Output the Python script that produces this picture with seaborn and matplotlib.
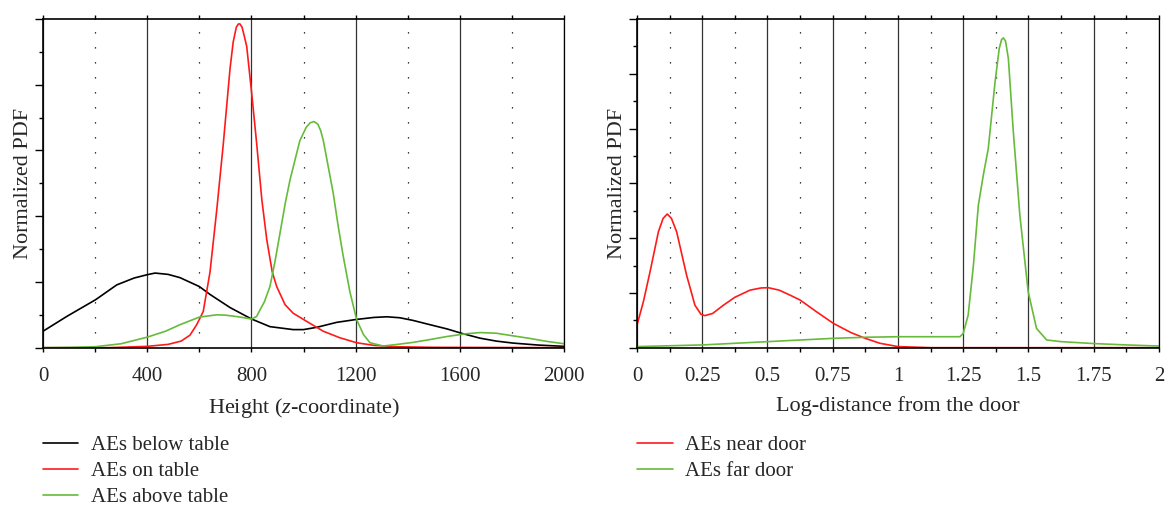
import numpy as np
import pandas as pd
import matplotlib
matplotlib.use("Agg")
import matplotlib.pyplot as plt
from matplotlib.ticker import MultipleLocator
import seaborn as sns

# -----------------------------
# Data (y in tick units)
# -----------------------------

# left panel: height (z-coordinate)
below_x = [0, 91, 202, 283, 350, 400, 430, 480, 526, 600, 641, 718, 801, 871, 960, 1000,
           1051, 1127, 1204, 1270, 1320, 1370, 1420, 1480, 1551, 1610, 1677, 1740, 1804, 1900, 2000]
below_y = [0.5, 0.95, 1.46, 1.91, 2.12, 2.22, 2.27, 2.23, 2.13, 1.86, 1.62, 1.22, 0.87, 0.64, 0.55, 0.55,
           0.62, 0.77, 0.86, 0.92, 0.94, 0.91, 0.83, 0.71, 0.57, 0.43, 0.29, 0.2, 0.14, 0.08, 0.04]

on_x = [0, 250, 400, 480, 530, 564, 590, 615, 641, 667, 692, 718, 730, 742, 750, 756, 764, 772, 782,
        801, 820, 840, 859, 880, 897, 929, 960, 1012, 1076, 1140, 1204, 1270, 1350, 1500, 2000]
on_y = [0, 0, 0.04, 0.1, 0.2, 0.38, 0.7, 1.1, 2.3, 4.2, 6.2, 8.5, 9.3, 9.75, 9.85, 9.85, 9.75, 9.5, 9.16,
        7.74, 6.22, 4.5, 3.28, 2.3, 1.86, 1.31, 1.05, 0.8, 0.5, 0.3, 0.15, 0.07, 0.03, 0.01, 0]

above_x = [0, 100, 202, 300, 400, 470, 526, 600, 667, 700, 750, 801, 820, 833, 850, 871, 890, 910,
           930, 948, 970, 986, 1010, 1025, 1040, 1055, 1066, 1076, 1095, 1114, 1133, 1152, 1178, 1204, 1230,
           1255, 1306, 1360, 1420, 1480, 1551, 1620, 1677, 1740, 1804, 1870, 1935, 2000]
above_y = [0, 0.01, 0.03, 0.12, 0.32, 0.5, 0.7, 0.93, 1.0, 0.99, 0.94, 0.87, 0.95, 1.15, 1.4, 1.86, 2.6, 3.5,
           4.4, 5.1, 5.8, 6.3, 6.7, 6.84, 6.88, 6.8, 6.6, 6.3, 5.5, 4.7, 3.7, 2.8, 1.7, 0.85, 0.4,
           0.15, 0.05, 0.1, 0.16, 0.24, 0.34, 0.42, 0.46, 0.44, 0.36, 0.28, 0.19, 0.12]

# right panel: log-distance from the door
near_x = [0, 0.025, 0.05, 0.082, 0.1, 0.116, 0.132, 0.152, 0.19, 0.222, 0.245, 0.26, 0.29, 0.331, 0.375,
          0.433, 0.475, 0.503, 0.545, 0.586, 0.625, 0.688, 0.752, 0.82, 0.875, 0.931, 1.0, 1.125, 2.0]
near_y = [0.82, 1.7, 2.77, 4.23, 4.72, 4.88, 4.72, 4.23, 2.65, 1.55, 1.22, 1.17, 1.25, 1.55, 1.84,
          2.1, 2.18, 2.19, 2.1, 1.92, 1.74, 1.31, 0.89, 0.55, 0.34, 0.16, 0.04, 0.0, 0.0]

far_x = [0, 0.25, 0.5, 0.75, 0.875, 1.0, 1.125, 1.2375, 1.25, 1.269, 1.289, 1.308, 1.327, 1.346,
         1.372, 1.388, 1.397, 1.404, 1.412, 1.423, 1.442, 1.467, 1.499, 1.531, 1.57, 1.625, 1.75, 1.875, 2.0]
far_y = [0.04, 0.1, 0.22, 0.34, 0.38, 0.4, 0.4, 0.4, 0.52, 1.19, 3.0, 5.2, 6.3, 7.27,
         9.7, 10.92, 11.25, 11.31, 11.2, 10.56, 7.88, 4.84, 2.04, 0.7, 0.28, 0.22, 0.15, 0.1, 0.06]

left_ticks = [0, 400, 800, 1200, 1600, 2000]
left_labels = ["0", "400", "800", "1200", "1600", "2000"]
right_ticks = [0, 0.25, 0.5, 0.75, 1, 1.25, 1.5, 1.75, 2]
right_labels = ["0", "0.25", "0.5", "0.75", "1", "1.25", "1.5", "1.75", "2"]

RED = "#ff1a1a"
GREEN = "#66bb3a"

# -----------------------------
# Style
# -----------------------------
sns.set_style("white")
plt.rcParams["font.family"] = ["Liberation Serif", "DejaVu Serif"]
plt.rcParams["mathtext.fontset"] = "custom"
plt.rcParams["mathtext.rm"] = "Liberation Serif"
plt.rcParams["mathtext.it"] = "Liberation Serif:italic"
plt.rcParams["font.size"] = 14

fig = plt.figure(figsize=(11.69, 5.08), dpi=100)
ax1 = fig.add_axes([0.0368, 0.3156, 0.4457, 0.647])
ax2 = fig.add_axes([0.5449, 0.3156, 0.4465, 0.647])


def style_axis(ax, xmax, major, minor, ymax, ymajor):
    ax.set_xlim(0, xmax)
    ax.set_ylim(0, ymax)
    ax.xaxis.set_major_locator(MultipleLocator(major))
    ax.xaxis.set_minor_locator(MultipleLocator(minor))
    ax.yaxis.set_major_locator(MultipleLocator(ymajor))
    ax.yaxis.set_minor_locator(MultipleLocator(ymajor / 2))
    ax.set_yticklabels([])
    ax.grid(axis="x", which="major", color="#333333", lw=0.9)
    ax.grid(axis="x", which="minor", color="black", lw=0.9, linestyle=(0, (1, 11)))
    ax.grid(axis="y", visible=False)
    ax.set_axisbelow(True)
    ax.tick_params(axis="x", which="both", direction="out", top=True, bottom=True,
                   length=3, width=1, color="black", pad=11, labelsize=15)
    ax.tick_params(axis="y", which="major", direction="out", left=True, length=6, width=1,
                   color="black", pad=0)
    ax.tick_params(axis="y", which="minor", direction="out", left=True, length=3, width=1,
                   color="black", pad=0)
    for side in ["left", "bottom", "top", "right"]:
        ax.spines[side].set_color("black")
        ax.spines[side].set_linewidth(1.2)
    ax.spines["right"].set_linewidth(0.9)
    ax.set_ylabel("Normalized PDF", fontsize=16, labelpad=1.5)


legend_kw = dict(loc="upper left", bbox_transform=fig.transFigure, frameon=False, borderpad=0,
                 borderaxespad=0, handlelength=1.7, handletextpad=0.6, labelspacing=0.32, fontsize=15)

# -----------------------------
# Left panel
# -----------------------------
sns.lineplot(x=below_x, y=below_y, ax=ax1, color="black", lw=1.2, label="AEs below table")
sns.lineplot(x=on_x, y=on_y, ax=ax1, color=RED, lw=1.2, label="AEs on table")
sns.lineplot(x=above_x, y=above_y, ax=ax1, color=GREEN, lw=1.2, label="AEs above table")
style_axis(ax1, 2000, 400, 200, 10, 2)
ax1.set_xticks(left_ticks)
ax1.set_xticklabels(left_labels)
ax1.set_xlabel("Height ($z$-coordinate)", fontsize=16, labelpad=7)
ax1.legend(bbox_to_anchor=(0.0368, 0.143), **legend_kw)

# -----------------------------
# Right panel
# -----------------------------
sns.lineplot(x=near_x, y=near_y, ax=ax2, color=RED, lw=1.2, label="AEs near door")
sns.lineplot(x=far_x, y=far_y, ax=ax2, color=GREEN, lw=1.2, label="AEs far door")
style_axis(ax2, 2, 0.25, 0.125, 12, 2)
ax2.set_xticks(right_ticks)
ax2.set_xticklabels(right_labels)
ax2.set_xlabel("Log-distance from the door", fontsize=16, labelpad=7)
ax2.legend(bbox_to_anchor=(0.545, 0.143), **legend_kw)

plt.savefig("out.png", dpi=100)
